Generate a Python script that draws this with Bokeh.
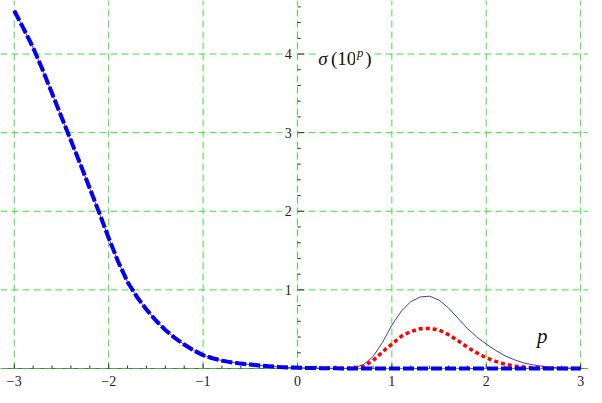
from bokeh.plotting import figure
from bokeh.core.properties import value
from bokeh.embed import file_html
from bokeh.resources import INLINE

# ---- data ----
p_vals = [-3.0, -2.9, -2.8, -2.7, -2.6, -2.5, -2.4, -2.3, -2.2, -2.1,
          -2.0, -1.9, -1.8, -1.7, -1.6, -1.5, -1.4, -1.3, -1.2, -1.1,
          -1.0, -0.9, -0.8, -0.7, -0.6, -0.5, -0.4, -0.3, -0.2, -0.1,
          0.0, 0.1, 0.2, 0.3, 0.4, 0.5,
          0.6, 0.7, 0.8, 0.9, 1.0, 1.1, 1.2, 1.3, 1.4, 1.5,
          1.6, 1.7, 1.8, 1.9, 2.0, 2.1, 2.2, 2.3, 2.4, 2.5,
          2.6, 2.7, 2.8, 2.9, 3.0]

# shared part (p <= 0.5)
sigma_left = [4.55, 4.32, 4.08, 3.80, 3.50, 3.20, 2.90, 2.60, 2.29, 1.98,
              1.66, 1.36, 1.10, 0.91, 0.75, 0.61, 0.49, 0.39, 0.305, 0.23,
              0.17, 0.13, 0.10, 0.078, 0.062, 0.05, 0.038, 0.028, 0.02, 0.014,
              0.01, 0.007, 0.005, 0.003, 0.002, 0.001]

# p = 0.6 ... 3.0
dashed_right = [0, 0, 0, 0, 0, 0, 0, 0, 0, 0,
                0, 0, 0, 0, 0, 0, 0, 0, 0, 0,
                0, 0, 0, 0, 0]
dotted_right = [0.005, 0.03, 0.10, 0.21, 0.31, 0.41, 0.47, 0.505, 0.51, 0.49,
                0.43, 0.355, 0.27, 0.20, 0.135, 0.09, 0.055, 0.03, 0.018, 0.01,
                0.005, 0.002, 0.001, 0, 0]
solid_right = [0.008, 0.05, 0.15, 0.33, 0.55, 0.73, 0.85, 0.91, 0.92, 0.87,
               0.77, 0.64, 0.51, 0.40, 0.31, 0.23, 0.16, 0.11, 0.07, 0.045,
               0.027, 0.015, 0.008, 0.004, 0.002]

sigma_dashed = sigma_left + dashed_right
sigma_dotted = sigma_left + dotted_right
sigma_solid = sigma_left + solid_right

x_tick_values = [-3, -2, -1, 0, 1, 2, 3]
x_tick_labels = ["\u22123", "\u22122", "\u22121", "0", "1", "2", "3"]
y_tick_values = [1, 2, 3, 4]
y_tick_labels = ["1", "2", "3", "4"]
grid_x = [-3, -2, -1, 0, 1, 2, 3]
grid_y = [0, 1, 2, 3, 4]
x_minor = [k / 5 for k in range(-15, 16) if k % 5 != 0]
y_minor = [k / 5 for k in range(1, 24) if k % 5 != 0]

X0, X1 = -3.146, 3.083
Y0, Y1 = -0.28, 4.681

fig = figure(width=588, height=390, x_range=(X0, X1), y_range=(Y0, Y1),
             x_axis_type=None, y_axis_type=None, toolbar_location=None,
             output_backend="svg", min_border=0, outline_line_color=None)
fig.xgrid.visible = False
fig.ygrid.visible = False

GREEN = "#3fe03f"
# grid lines
fig.segment(x0=grid_x, y0=0, x1=grid_x, y1=Y1, line_color=GREEN,
            line_width=1, line_dash="7 4")
fig.segment(x0=X0, y0=grid_y[1:], x1=X1, y1=grid_y[1:], line_color=GREEN,
            line_width=1, line_dash="7 4")

# x axis line
fig.segment(x0=[X0], y0=[0], x1=[X1], y1=[0], line_color="#5a6a5a", line_width=1)
fig.segment(x0=[X0], y0=[0], x1=[X1], y1=[0], line_color=GREEN, line_width=1,
            line_dash="7 4", line_alpha=0.6)

# ticks
fig.segment(x0=x_tick_values, y0=0, x1=x_tick_values, y1=0.06, line_color="#333333", line_width=1)
fig.segment(x0=x_minor, y0=0, x1=x_minor, y1=0.038, line_color="#333333", line_width=1)
fig.segment(x0=0, y0=y_tick_values, x1=0.07, y1=y_tick_values, line_color="#333333", line_width=1)
fig.segment(x0=0, y0=y_minor, x1=0.035, y1=y_minor, line_color="#333333", line_width=1)

# curves
fig.line(p_vals, sigma_solid, line_color="#3d3da8", line_width=1)
fig.line(p_vals, sigma_dotted, line_color="#ff0000", line_width=3.5, line_dash="4 3")
fig.line(p_vals, sigma_dashed, line_color="#0000ff", line_width=4, line_dash="11 3")

FONT = value("Liberation Serif, Times New Roman, serif")
# tick labels
fig.text(x=x_tick_values, y=-0.165, text=x_tick_labels, text_align="center",
         text_baseline="middle", text_font=FONT, text_font_size="14px",
         text_color="#222222")
fig.text(x=-0.05, y=y_tick_values, text=y_tick_labels, text_align="right",
         text_baseline="middle", text_font=FONT, text_font_size="14px",
         text_color="#222222", background_fill_color="white", padding=1)

# axis label sigma(10^p)
fig.text(x=[0.198], y=[3.945], text=["\u03c3"], text_align="left",
         text_baseline="alphabetic", text_font=FONT, text_font_size="19px",
         text_font_style="italic", text_color="#111111",
         background_fill_color="white", padding=2)
fig.text(x=[0.333], y=[3.945], text=["(10"], text_align="left",
         text_baseline="alphabetic", text_font=FONT, text_font_size="19px",
         text_color="#111111", background_fill_color="white", padding=2)
fig.text(x=[0.609], y=[4.02], text=["p"], text_align="left",
         text_baseline="alphabetic", text_font=FONT, text_font_size="13px",
         text_font_style="italic", text_color="#111111",
         background_fill_color="white", padding=2)
fig.text(x=[0.698], y=[3.945], text=[")"], text_align="left",
         text_baseline="alphabetic", text_font=FONT, text_font_size="19px",
         text_color="#111111", background_fill_color="white", padding=2)

# horizontal axis label
fig.text(x=[2.594], y=[0.41], text=["p"], text_align="center",
         text_baseline="alphabetic", text_font=FONT, text_font_size="21px",
         text_font_style="italic", text_color="#111111")

open("out.html", "w").write(file_html(fig, INLINE))
